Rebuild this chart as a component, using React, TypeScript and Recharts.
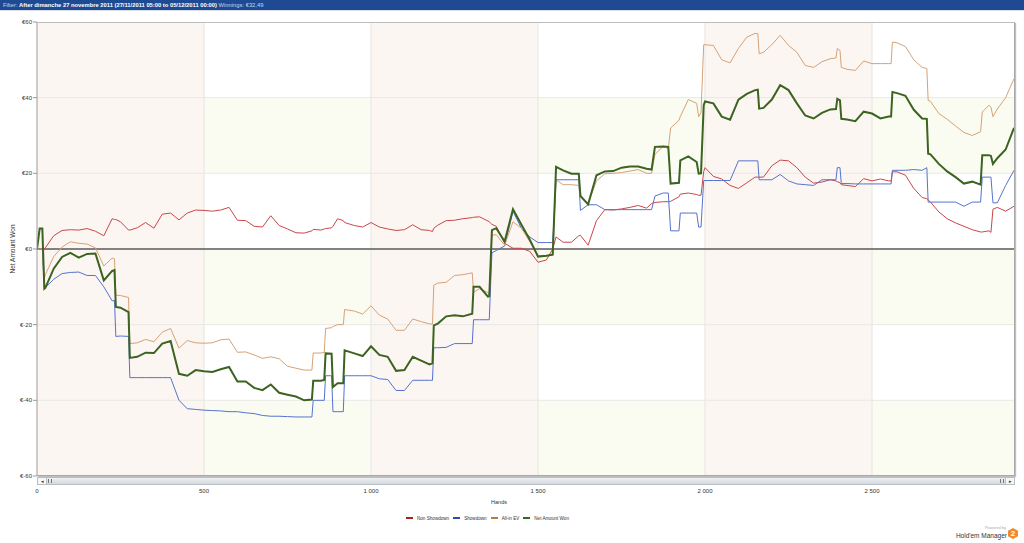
import React from 'react';
import { LineChart, Line, XAxis, YAxis, ReferenceArea, ReferenceLine } from 'recharts';

// Hands (x positions of the samples)
const HANDS = [
  0, 8, 16, 22, 25, 50, 75, 100, 125, 150,
  175, 200, 225, 232, 236, 250, 274, 278, 300, 325,
  350, 375, 400, 425, 450, 475, 500, 525, 550, 575,
  600, 625, 650, 675, 700, 725, 750, 775, 800, 823,
  827, 850, 860, 864, 882, 886, 900, 917, 921, 950,
  975, 1000, 1025, 1050, 1075, 1100, 1125, 1150, 1175, 1184,
  1188, 1200, 1225, 1250, 1275, 1303, 1307, 1325, 1350, 1354,
  1362, 1375, 1400, 1425, 1450, 1475, 1500, 1525, 1544, 1554,
  1575, 1600, 1622, 1627, 1650, 1675, 1700, 1725, 1750, 1775,
  1800, 1825, 1840, 1850, 1875, 1890, 1897, 1922, 1926, 1950,
  1975, 1981, 1988, 1996, 2000, 2025, 2050, 2075, 2100, 2125,
  2150, 2158, 2162, 2175, 2200, 2225, 2250, 2275, 2300, 2325,
  2350, 2375, 2392, 2396, 2404, 2408, 2425, 2450, 2475, 2500,
  2525, 2550, 2557, 2561, 2575, 2600, 2625, 2650, 2664, 2668,
  2675, 2700, 2725, 2750, 2775, 2800, 2825, 2830, 2850, 2856,
  2862, 2875, 2900, 2925,
];

const X_TICKS = [0, 500, 1000, 1500, 2000, 2500];
const Y_TICKS = [-60, -40, -20, 0, 20, 40, 60];

// Non Showdown winnings
const NON_SHOWDOWN = [
  0, 0, 0, 0, 0.3, 3.5, 4.9, 5.1, 5.0, 5.4,
  4.7, 3.5, 8.0, 7.8, 7.8, 7.2, 5.0, 5.0, 5.6, 7.0,
  5.5, 9.2, 9.5, 7.7, 9.5, 10.3, 10.2, 10.0, 10.3, 11.0,
  7.6, 7.5, 6.0, 5.8, 8.8, 6.2, 5.3, 4.3, 4.2, 4.8,
  5.2, 5.0, 5.3, 5.4, 5.6, 6.0, 8.0, 7.5, 7.0, 6.2,
  5.8, 7.0, 5.8, 5.3, 4.9, 5.1, 6.4, 5.1, 4.9, 4.6,
  5.5, 6.3, 7.5, 7.6, 8.0, 8.3, 8.4, 8.5, 7.4, 7.2,
  6.5, 6.0, 1.5, 0.2, 0.2, -0.6, -3.5, -2.9, 0.0, 3.2,
  1.8, 1.8, 3.5, 3.6, 1.0, 7.5, 10.4, 10.3, 10.6, 11.0,
  11.5, 10.8, 12.0, 12.3, 12.5, 12.5, 12.6, 13.8, 14.5, 14.8,
  14.4, 14.2, 14.2, 20.5, 21.5, 19.2, 18.5, 16.8, 16.0, 17.5,
  19.0, 19.0, 19.0, 19.0, 22.0, 23.5, 23.3, 21.5, 19.0, 17.4,
  17.7, 18.3, 18.0, 17.8, 17.5, 17.0, 16.8, 16.5, 18.6, 18.0,
  18.5, 18.0, 18.0, 20.4, 20.4, 19.5, 16.0, 13.6, 13.3, 13.0,
  12.4, 9.8, 8.0, 6.9, 6.0, 5.1, 4.5, 4.5, 4.8, 4.4,
  10.5, 11.0, 10.0, 11.3,
];

// Showdown winnings
const SHOWDOWN = [
  0, 0, 0, -10.5, -10.2, -8.0, -6.5, -6.2, -6.1, -7.0,
  -7.0, -10.0, -13.7, -13.6, -23.1, -23.0, -23.1, -34.0, -34.0, -34.0,
  -34.0, -34.0, -34.0, -40.0, -42.2, -42.4, -42.6, -42.7, -42.8, -43.0,
  -43.0, -43.3, -43.5, -44.0, -44.2, -44.2, -44.3, -44.4, -44.4, -44.4,
  -40.0, -40.0, -40.0, -33.5, -33.5, -43.0, -43.0, -43.0, -33.5, -33.5,
  -33.5, -33.5, -34.3, -34.5, -37.4, -37.4, -34.7, -34.7, -34.7, -34.7,
  -26.1, -26.1, -26.0, -25.0, -25.0, -25.0, -18.7, -18.7, -18.7, -18.7,
  -1.0, -0.4, 0.8, 10.0, 5.5, 3.2, 1.7, 1.7, 1.7, 18.3,
  18.3, 18.3, 18.3, 10.2, 11.7, 11.7, 10.4, 10.4, 10.4, 10.4,
  10.4, 10.4, 10.4, 14.0, 14.8, 14.8, 4.8, 4.8, 9.5, 9.5,
  9.5, 5.8, 5.8, 18.1, 18.1, 18.1, 18.1, 18.1, 23.3, 23.3,
  23.3, 23.3, 18.3, 18.3, 18.3, 19.7, 18.0, 17.2, 17.0, 16.8,
  18.3, 18.3, 18.3, 21.5, 21.5, 17.3, 17.3, 17.2, 17.2, 17.2,
  17.2, 17.2, 17.2, 20.8, 20.8, 20.8, 21.0, 20.8, 21.5, 12.4,
  12.4, 12.4, 12.4, 12.4, 11.3, 12.4, 12.4, 19.0, 19.0, 19.0,
  12.2, 12.2, 16.8, 20.8,
];

// All-in EV
const ALL_IN_EV = [
  0, 0, 0, -7.8, -6.8, -2.0, 0.5, 1.9, 1.5, 1.3,
  0.3, -4.5, -2.4, -2.6, -12.2, -12.3, -12.8, -25.0, -24.8, -23.9,
  -24.5, -22.0, -21.0, -26.2, -24.2, -24.8, -24.9, -24.8, -24.0, -23.8,
  -27.3, -27.2, -28.0, -28.9, -28.5, -29.0, -31.0, -31.5, -32.0, -32.0,
  -27.5, -27.5, -27.3, -21.0, -20.8, -20.5, -20.0, -20.0, -16.0, -16.4,
  -17.2, -15.0, -17.5, -18.5, -21.5, -21.5, -18.5, -19.2, -19.8, -19.8,
  -9.6, -9.0, -8.8, -7.0, -6.8, -6.3, -11.4, -10.5, -11.5, -12.0,
  3.6, 3.8, 1.0, 7.2, 5.5, 2.0, -1.8, -1.9, -1.5, 18.3,
  17.0, 17.0, 16.8, 14.0, 12.0, 18.0, 19.9, 20.0, 20.2, 20.6,
  21.0, 20.0, 20.0, 25.0, 27.2, 26.5, 32.0, 34.0, 35.0, 39.5,
  38.5, 35.0, 36.0, 54.0, 54.0, 53.8, 50.0, 49.2, 53.0, 56.0,
  57.0, 56.9, 51.6, 52.0, 54.0, 56.5, 53.8, 52.0, 48.5, 48.0,
  49.5, 50.3, 50.5, 53.0, 52.5, 48.0, 47.5, 47.2, 49.7, 49.0,
  49.0, 49.0, 49.0, 54.7, 54.5, 53.5, 50.0, 48.0, 47.7, 39.3,
  39.0, 35.8, 34.3, 32.5, 30.8, 30.0, 31.0, 36.2, 38.0, 37.5,
  35.0, 37.0, 40.0, 45.0,
];

// Net Amount Won
const NET_WON = [
  0, 5.4, 5.4, -10.5, -10.3, -5.2, -2.1, -1.0, -2.3, -1.3,
  -1.2, -8.3, -5.8, -5.6, -15.3, -15.5, -16.7, -28.8, -28.5, -27.4,
  -27.5, -25.0, -24.3, -33.0, -33.5, -32.0, -32.3, -32.5, -31.8, -31.2,
  -35.0, -35.0, -36.7, -37.3, -35.8, -38.0, -38.5, -39.0, -40.0, -39.8,
  -34.8, -34.8, -34.6, -27.6, -27.7, -36.5, -35.5, -35.5, -26.8, -27.6,
  -28.3, -25.7, -28.0, -28.5, -32.2, -32.0, -28.5, -29.5, -30.5, -30.2,
  -20.2, -19.7, -17.8, -17.5, -17.8, -17.1, -10.0, -10.0, -12.6, -12.5,
  5.0, 5.5, 2.0, 10.5, 6.5, 2.5, -2.0, -1.8, -1.5, 21.7,
  20.8, 19.9, 19.9, 14.0, 11.8, 19.5, 20.5, 20.6, 21.5, 21.8,
  21.8, 21.2, 21.0, 27.0, 27.1, 27.0, 17.3, 17.5, 23.4, 24.5,
  23.0, 19.9, 20.0, 38.0, 39.0, 38.5, 35.0, 34.2, 39.5, 41.0,
  42.0, 42.1, 37.1, 37.3, 39.5, 43.3, 42.0, 38.5, 35.3, 34.5,
  36.0, 36.9, 37.0, 39.7, 39.3, 34.4, 34.2, 33.8, 36.3, 35.8,
  34.5, 35.0, 35.0, 41.5, 41.2, 40.5, 36.8, 34.5, 34.4, 25.2,
  25.0, 22.5, 20.5, 19.0, 17.3, 17.8, 17.0, 24.8, 24.8, 24.6,
  22.5, 24.0, 26.3, 32.0,
];

const SERIES = [
  { key: 'nonShowdown', name: 'Non Showdown', color: '#c9464a', legend: '#b51c1c', width: 1 },
  { key: 'showdown', name: 'Showdown', color: '#5572cf', legend: '#2a4bb5', width: 1 },
  { key: 'allInEV', name: 'All-in EV', color: '#d6a276', legend: '#c27a3c', width: 1 },
  { key: 'net', name: 'Net Amount Won', color: '#3c6320', legend: '#35691f', width: 2 },
];

const X_MAX = 2928;
const PINK_COLS: [number, number][] = [[0, 500], [1000, 1500], [2000, 2500]];
const PLAIN_COLS: [number, number][] = [[500, 1000], [1500, 2000], [2500, X_MAX]];
const CREAM_ROWS: [number, number][] = [[20, 40], [-20, 0], [-60, -40]];

const data = HANDS.map((h, i) => ({
  hand: h,
  nonShowdown: NON_SHOWDOWN[i],
  showdown: SHOWDOWN[i],
  allInEV: ALL_IN_EV[i],
  net: NET_WON[i],
}));

const FONT = '"Liberation Sans", Arial, sans-serif';

const fmtHands = (v: number) => String(v).replace(/\B(?=(\d{3})+(?!\d))/g, ' ');

export default function App() {
  return (
    <div style={{ position: 'absolute', left: 0, top: 0, width: 1024, height: 543, background: '#fff', fontFamily: FONT, overflow: 'hidden' }}>
      {/* header bar */}
      <div style={{ position: 'absolute', left: 0, top: 0, width: 1024, height: 10, background: '#1d4a92', color: '#fff', fontSize: 5.8, lineHeight: '10px', paddingLeft: 3, boxSizing: 'border-box', whiteSpace: 'nowrap' }}>
        <span style={{ color: '#c9d5ea' }}>Filter: </span>
        <b>After dimanche 27 novembre 2011 (27/11/2011 05:00 to 05/12/2011 00:00)</b>
        <span style={{ color: '#c9d5ea' }}> Winnings: €32,49</span>
      </div>
      <div style={{ position: 'absolute', left: 0, top: 10, width: 1024, height: 1, background: '#d8dde6' }} />

      <div style={{ position: 'absolute', left: 0, top: 0 }}>
        <LineChart width={1024} height={543} data={data} margin={{ top: 22, right: 9, bottom: 37, left: 0 }}>
          <XAxis
            dataKey="hand"
            type="number"
            domain={[0, X_MAX]}
            ticks={X_TICKS}
            tickFormatter={fmtHands}
            axisLine={false}
            tickLine={false}
            tickSize={0}
            tickMargin={13}
            height={30}
            allowDataOverflow
            tick={{ fontSize: 6, fill: '#333', fontFamily: FONT }}
          />
          <YAxis
            type="number"
            domain={[-60, 60]}
            ticks={Y_TICKS}
            tickFormatter={(v: number) => `€${v}`}
            width={37}
            axisLine={{ stroke: '#9a9a9a' }}
            tickLine={{ stroke: '#9a9a9a' }}
            tickSize={4}
            tickMargin={1}
            allowDataOverflow
            tick={{ fontSize: 6, fill: '#333', fontFamily: FONT }}
          />
          {PLAIN_COLS.map(([a, b]) =>
            CREAM_ROWS.map(([lo, hi]) => (
              <ReferenceArea key={`c${a}-${lo}`} x1={a} x2={b} y1={lo} y2={hi} fill="#fbfcf1" fillOpacity={1} stroke="none" ifOverflow="hidden" />
            ))
          )}
          {PINK_COLS.map(([a, b]) => (
            <ReferenceArea key={`p${a}`} x1={a} x2={b} y1={-60} y2={60} fill="#fcf6f3" fillOpacity={1} stroke="none" ifOverflow="hidden" />
          ))}
          {X_TICKS.filter((t) => t > 0).map((t) => (
            <ReferenceLine key={`gx${t}`} x={t} stroke="#e6e4e2" strokeWidth={1} />
          ))}
          {Y_TICKS.filter((t) => t !== 0 && t !== 60 && t !== -60).map((t) => (
            <ReferenceLine key={`gy${t}`} y={t} stroke="#e8e8e6" strokeWidth={1} />
          ))}
          <ReferenceLine y={0} stroke="#5a5a5a" strokeWidth={1.6} />
          {SERIES.map((s) => (
            <Line
              key={s.key}
              dataKey={s.key}
              name={s.name}
              type="linear"
              stroke={s.color}
              strokeWidth={s.width}
              dot={false}
              activeDot={false}
              isAnimationActive={false}
            />
          ))}
        </LineChart>
      </div>

      {/* plot frame */}
      <div style={{ position: 'absolute', left: 37, top: 22, width: 978, height: 454, borderTop: '1px solid #bdbdbd', borderRight: '1px solid #a8a8a8', borderBottom: '1px solid #a8a8a8', boxShadow: '1px 1px 1px rgba(0,0,0,0.25)', boxSizing: 'border-box', pointerEvents: 'none' }} />

      {/* scrollbar */}
      <div style={{ position: 'absolute', left: 37, top: 477, width: 978, height: 8, background: 'linear-gradient(#eef1f4, #d3d8de)', border: '1px solid #b8bec6', boxSizing: 'border-box' }}>
        <div style={{ position: 'absolute', left: 0, top: 0, width: 8, height: 6, background: '#f4f6f8', borderRight: '1px solid #b8bec6', fontSize: 5, lineHeight: '6px', textAlign: 'center', color: '#333' }}>◂</div>
        <div style={{ position: 'absolute', left: 10, top: 1, width: 2, height: 4, borderLeft: '1px solid #777', borderRight: '1px solid #777' }} />
        <div style={{ position: 'absolute', right: 10, top: 1, width: 2, height: 4, borderLeft: '1px solid #777', borderRight: '1px solid #777' }} />
        <div style={{ position: 'absolute', right: 0, top: 0, width: 8, height: 6, background: '#f4f6f8', borderLeft: '1px solid #b8bec6', fontSize: 5, lineHeight: '6px', textAlign: 'center', color: '#333' }}>▸</div>
      </div>

      {/* y axis title */}
      <div style={{ position: 'absolute', left: 12, top: 249, transform: 'translate(-50%, -50%) rotate(-90deg)', fontSize: 6.5, color: '#333', whiteSpace: 'nowrap' }}>Net Amount Won</div>

      {/* x axis title */}
      <div style={{ position: 'absolute', left: 499, top: 502, transform: 'translate(-50%, -50%)', fontSize: 5.5, color: '#333', whiteSpace: 'nowrap' }}>Hands</div>

      {/* legend */}
      <div style={{ position: 'absolute', left: 406, top: 515, height: 6, display: 'flex', alignItems: 'center', fontSize: 4.6, color: '#333', whiteSpace: 'nowrap' }}>
        {SERIES.map((s) => (
          <div key={s.key} style={{ display: 'flex', alignItems: 'center', marginRight: 4 }}>
            <div style={{ width: 7, height: 1.5, background: s.legend, marginRight: 4 }} />
            <span>{s.name}</span>
          </div>
        ))}
      </div>

      {/* branding */}
      <div style={{ position: 'absolute', left: 960, top: 525, width: 46, textAlign: 'right', fontSize: 4, color: '#aaa' }}>Powered by</div>
      <div style={{ position: 'absolute', left: 940, top: 532, width: 67, textAlign: 'right', fontSize: 6.5, color: '#333', whiteSpace: 'nowrap' }}>Hold'em Manager</div>
      <div style={{ position: 'absolute', left: 1008, top: 528, width: 10, height: 11, background: '#f08a2c', clipPath: 'polygon(50% 0, 100% 25%, 100% 75%, 50% 100%, 0 75%, 0 25%)', color: '#fff', fontSize: 8, fontWeight: 'bold', lineHeight: '11px', textAlign: 'center' }}>2</div>
    </div>
  );
}
